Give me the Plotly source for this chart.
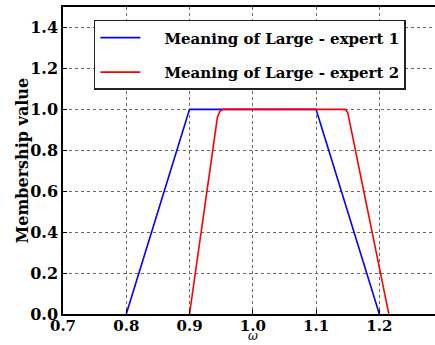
import plotly.graph_objects as go

# membership functions
x_expert1 = [0.8, 0.9, 1.1, 1.2]
y_expert1 = [0.0, 1.0, 1.0, 0.0]

x_expert2 = [0.9, 0.944, 0.948, 0.953, 1.146, 1.150, 1.215]
y_expert2 = [0.0, 0.96, 0.99, 1.0, 1.0, 0.985, 0.0]

names = ["Meaning of Large - expert 1", "Meaning of Large - expert 2"]
xticks = [0.7, 0.8, 0.9, 1.0, 1.1, 1.2]
yticks = [0.0, 0.2, 0.4, 0.6, 0.8, 1.0, 1.2, 1.4]

serif = "DejaVu Serif"
pad = "\u00a0" * 4

fig = go.Figure()
fig.add_trace(go.Scatter(x=x_expert1, y=y_expert1, mode="lines", name=f"{pad}<b>{names[0]}</b>",
                         legendgroup="a", line=dict(color="#0000ff", width=1.6)))
fig.add_trace(go.Scatter(x=x_expert2, y=y_expert2, mode="lines", name=f"{pad}<b>{names[1]}</b>",
                         legendgroup="b", line=dict(color="#ff0000", width=1.6)))

fig.update_layout(
    width=435, height=345,
    margin=dict(l=63, r=0, t=7, b=31),
    paper_bgcolor="white", plot_bgcolor="white",
    font=dict(family=serif, color="black"),
    showlegend=True,
    legend=dict(
        x=0.083, y=0.958, xanchor="left", yanchor="top",
        bgcolor="white", bordercolor="#222222", borderwidth=1.5,
        font=dict(family=serif, size=15, color="black"),
        tracegroupgap=12, itemwidth=40,
    ),
)
fig.update_xaxes(
    range=[0.7, 1.288], tickvals=xticks, ticktext=[f"<b>{v:.1f}</b>" for v in xticks],
    tickfont=dict(family=serif, size=15), showgrid=True, gridcolor="#666666", griddash="dot", gridwidth=0.8,
    showline=True, linecolor="black", linewidth=1.5, mirror=True,
    ticks="inside", ticklen=4, tickcolor="black", zeroline=False,
    ticklabelstandoff=-3, automargin=False,
)
fig.update_yaxes(
    range=[0, 1.5], tickvals=yticks, ticktext=[f"<b>{v:.1f}</b>" for v in yticks],
    tickfont=dict(family=serif, size=16), showgrid=True, gridcolor="#666666", griddash="dot", gridwidth=0.8,
    showline=True, linecolor="black", linewidth=1.5,
    ticks="inside", ticklen=4, tickcolor="black", zeroline=False, automargin=False,
)
fig.add_annotation(text="<b>Membership value</b>", x=0, y=0.5, xref="paper", yref="paper",
                   xanchor="center", yanchor="middle", xshift=-41, textangle=-90,
                   showarrow=False, font=dict(family=serif, size=16))
fig.add_annotation(text="<i>ω</i>", x=1.0, y=0, xref="x", yref="paper",
                   xanchor="center", yanchor="bottom", yshift=-31, showarrow=False,
                   font=dict(family=serif, size=12))

fig.write_html("out.html", config={"displayModeBar": False},
               post_script="document.body.style.margin='0';")
